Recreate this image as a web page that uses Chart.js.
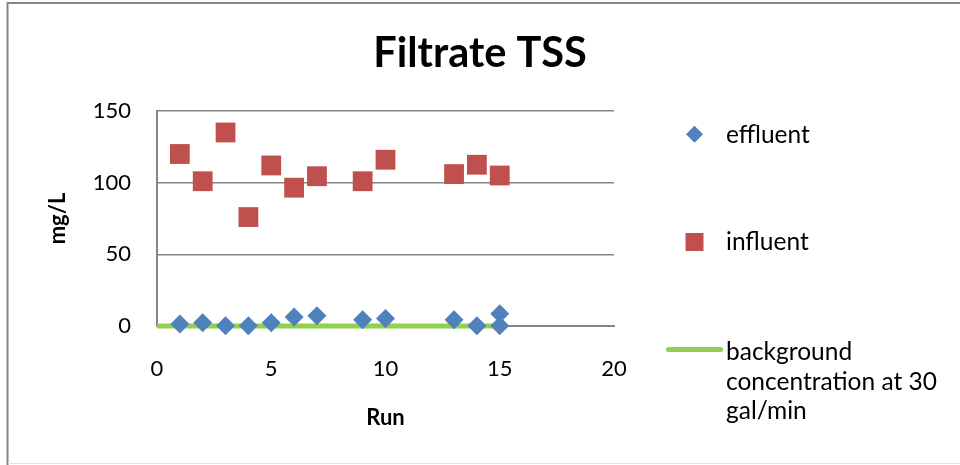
<!DOCTYPE html>
<html>
<head>
<meta charset="utf-8">
<title>Filtrate TSS</title>
<script src="https://cdn.jsdelivr.net/npm/chart.js@4/dist/chart.umd.min.js"></script>
<style>
  html, body { margin: 0; padding: 0; background: #ffffff; }
  #wrap { width: 960px; height: 465px; position: relative; }
</style>
</head>
<body>
<div id="wrap"><canvas id="chart" width="960" height="465"></canvas></div>
<script>
// Run numbers and measured TSS (mg/L)
const effluentRuns = [1, 2, 3, 4, 5, 6, 7, 9, 10, 13, 14, 15, 15];
const effluentTSS  = [1.4, 2.3, 0.2, 0.2, 2.3, 6.3, 7.2, 4.4, 5.3, 4.4, 0.2, 0.2, 8.6];
const influentRuns = [1, 2, 3, 4, 5, 6, 7, 9, 10, 13, 14, 15];
const influentTSS  = [120, 101, 135, 76, 112, 96.5, 104.5, 101, 116, 106, 112.5, 105];
const backgroundRuns = [0, 15];
const backgroundTSS  = [0, 0];

const seriesNames = ['effluent', 'influent', 'background concentration at 30 gal/min'];
const chartTitle = 'Filtrate TSS';
const xTitle = 'Run';
const yTitle = 'mg/L';

const FONT = 'Lato, "Open Sans", "DejaVu Sans", sans-serif';
const GRID = '#868686';

const toPoints = (xs, ys) => xs.map((x, i) => ({ x: x, y: ys[i] }));

// White page with the grey frame on the left/top edges
const framePlugin = {
  id: 'frame',
  beforeDraw(chart) {
    const ctx = chart.ctx;
    ctx.save();
    ctx.fillStyle = '#ffffff';
    ctx.fillRect(0, 0, chart.width, chart.height);
    ctx.strokeStyle = GRID;
    ctx.lineWidth = 2;
    ctx.beginPath();
    ctx.moveTo(7.5, chart.height);
    ctx.lineTo(7.5, 3);
    ctx.lineTo(chart.width, 3);
    ctx.stroke();
    ctx.strokeStyle = '#e2e2e2';
    ctx.lineWidth = 1;
    ctx.beginPath();
    ctx.moveTo(8, chart.height - 1.5);
    ctx.lineTo(chart.width, chart.height - 1.5);
    ctx.stroke();
    ctx.restore();
  }
};

// Legend on the right: one entry per dataset, long names wrapped
const sideLegend = {
  id: 'sideLegend',
  afterDraw(chart, args, opts) {
    const ctx = chart.ctx;
    ctx.save();
    ctx.font = opts.fontSize + 'px ' + FONT;
    ctx.fillStyle = '#000000';
    ctx.textAlign = 'left';
    ctx.textBaseline = 'alphabetic';
    chart.data.datasets.forEach((ds, i) => {
      const base = opts.baselines[i];
      // word wrap
      const words = ds.label.split(' ');
      const lines = [];
      let cur = '';
      words.forEach(w => {
        const t = cur ? cur + ' ' + w : w;
        if (cur && ctx.measureText(t).width > opts.maxWidth) { lines.push(cur); cur = w; }
        else cur = t;
      });
      if (cur) lines.push(cur);
      lines.forEach((ln, k) => ctx.fillText(ln, opts.textX, base + k * opts.lineGap));

      const mx = opts.markerX;
      ctx.fillStyle = ds.backgroundColor;
      if (ds.showLine) {
        const my = base - 10.5;
        ctx.strokeStyle = ds.borderColor;
        ctx.lineWidth = ds.borderWidth;
        ctx.lineCap = 'round';
        ctx.beginPath();
        ctx.moveTo(mx - 26, my);
        ctx.lineTo(mx + 26, my);
        ctx.stroke();
      } else if (ds.pointStyle === 'rectRot') {
        const my = base - 8.5, r = 8.5;
        ctx.beginPath();
        ctx.moveTo(mx, my - r);
        ctx.lineTo(mx + r, my);
        ctx.lineTo(mx, my + r);
        ctx.lineTo(mx - r, my);
        ctx.closePath();
        ctx.fill();
      } else {
        const my = base - 8, h = 9;
        ctx.fillRect(mx - h, my - h, 2 * h, 2 * h);
      }
      ctx.fillStyle = '#000000';
    });
    ctx.restore();
  }
};

new Chart(document.getElementById('chart'), {
  type: 'scatter',
  data: {
    datasets: [
      {
        label: seriesNames[0],
        data: toPoints(effluentRuns, effluentTSS),
        pointStyle: 'rectRot',
        pointRadius: 9.5,
        backgroundColor: '#4F81BD',
        borderColor: '#4F81BD',
        borderWidth: 0,
        showLine: false,
        clip: false
      },
      {
        label: seriesNames[1],
        data: toPoints(influentRuns, influentTSS),
        pointStyle: 'rect',
        pointRadius: 14,
        backgroundColor: '#C0504D',
        borderColor: '#C0504D',
        borderWidth: 0,
        showLine: false,
        clip: false
      },
      {
        label: seriesNames[2],
        data: toPoints(backgroundRuns, backgroundTSS),
        showLine: true,
        pointRadius: 0,
        borderColor: '#92D050',
        backgroundColor: '#92D050',
        borderWidth: 5,
        fill: false,
        clip: false
      }
    ]
  },
  options: {
    responsive: false,
    animation: false,
    events: [],
    layout: { padding: 0 },
    plugins: {
      legend: { display: false },
      tooltip: { enabled: false },
      title: {
        display: true,
        text: chartTitle,
        color: '#000000',
        font: { family: FONT, size: 41.5, weight: 'bold', lineHeight: 1.2 },
        padding: { top: 29.1, bottom: 32.1 }
      },
      sideLegend: {
        fontSize: 24.5,
        textX: 726,
        markerX: 694.5,
        baselines: [142.7, 250, 360],
        lineGap: 29.7,
        maxWidth: 228
      }
    },
    scales: {
      x: {
        type: 'linear',
        position: 'bottom',
        min: 0,
        max: 20,
        afterFit(s) { s.height = 139; },
        ticks: {
          stepSize: 5,
          color: '#000000',
          padding: 30,
          font: { family: FONT, size: 22 }
        },
        grid: { display: false, drawTicks: false },
        border: { display: true, color: GRID, width: 2 },
        title: {
          display: true,
          text: xTitle,
          color: '#000000',
          font: { family: FONT, size: 22, weight: 'bold', lineHeight: 1.2 },
          padding: { top: 0, bottom: 33.8 }
        }
      },
      y: {
        type: 'linear',
        position: 'left',
        min: 0,
        max: 150,
        afterFit(s) { s.width = 157; },
        ticks: {
          stepSize: 50,
          color: '#000000',
          padding: 26,
          font: { family: FONT, size: 22 }
        },
        grid: { color: GRID, lineWidth: 1.5, drawTicks: false },
        border: { display: true, color: GRID, width: 2 },
        title: {
          display: true,
          text: yTitle,
          color: '#000000',
          font: { family: FONT, size: 22, weight: 'bold', lineHeight: 1.2 },
          padding: { top: 44.8, bottom: 0 }
        }
      },
      legendSpace: {
        type: 'linear',
        position: 'right',
        display: true,
        afterFit(s) { s.width = 346; },
        ticks: { display: false },
        grid: { display: false, drawTicks: false },
        border: { display: false }
      }
    }
  },
  plugins: [framePlugin, sideLegend]
});
</script>
</body>
</html>
